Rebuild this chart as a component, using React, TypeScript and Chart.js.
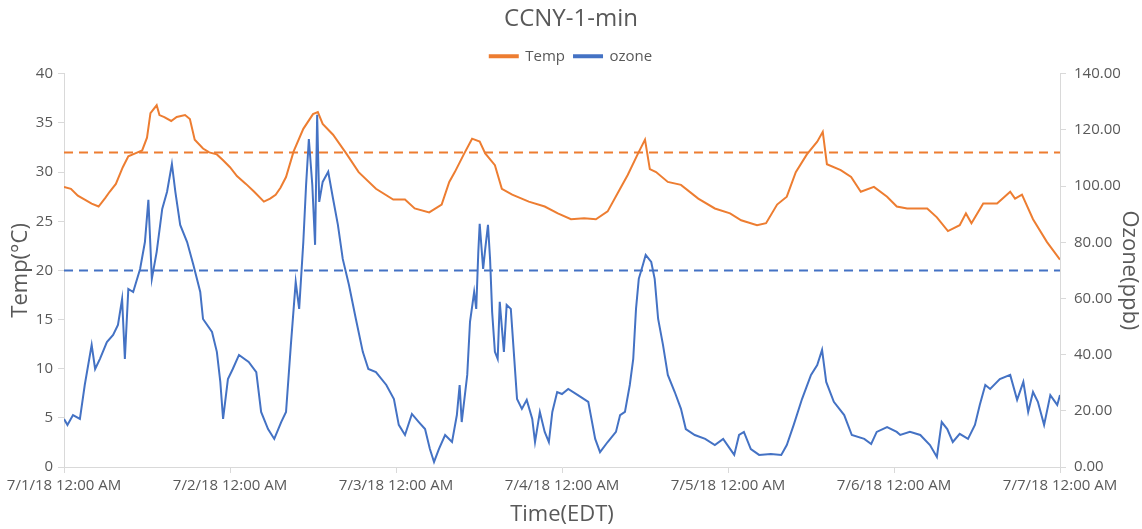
import React, { useEffect, useRef } from "react";
import { Chart, registerables } from "chart.js";

Chart.register(...registerables);

// ---- Data (hours since 7/1/18 12:00 AM) ----
const tempHours = [
  0, 1, 2, 3, 4, 5, 6, 6.6, 7.5, 8.5, 9.3, 10.3, 11.3, 12, 12.5, 13.4, 13.8, 14.5, 15.5, 16.3,
  17.5, 18.2, 18.9, 20.1, 21, 22.1, 23, 24, 25, 26.3, 27.5, 28.9, 29.8, 30.6, 31.3, 32.1, 33.2,
  34.6, 36, 36.7, 37.4, 38.9, 40.8, 42.6, 45.1, 47.6, 49.3, 50.7, 52.8, 54.6, 55.7, 56.5, 57.8,
  59, 60.1, 60.9, 62.3, 63.3, 64.8, 67.2, 69.5, 71.4, 73.3, 75.2, 76.9, 78.6, 80.4, 81.5, 83,
  84, 84.7, 85.6, 87.3, 89.2, 91.7, 94.1, 96.3, 97.9, 100.2, 101.5, 103.1, 104.5, 105.8, 107.4,
  108.9, 109.7, 110.3, 112.3, 113.8, 115.2, 117.1, 119, 120.4, 121.9, 124.8, 126.2, 127.8, 129.5,
  130.4, 131.2, 132.9, 134.9, 136.8, 137.5, 138.5, 140.1, 142.1, 144,
];
const tempValues = [
  28.5, 28.3, 27.6, 27.2, 26.8, 26.5, 27.4, 28.0, 28.8, 30.5, 31.6, 31.9, 32.2, 33.5, 36.0, 36.8,
  35.8, 35.6, 35.2, 35.6, 35.8, 35.4, 33.3, 32.4, 32.0, 31.8, 31.2, 30.5, 29.6, 28.8, 28.0, 27.0,
  27.3, 27.7, 28.4, 29.5, 32.1, 34.4, 35.9, 36.1, 34.9, 33.8, 31.9, 30.0, 28.3, 27.2, 27.2, 26.3,
  25.9, 26.7, 29.0, 30.0, 31.8, 33.4, 33.1, 31.9, 30.7, 28.3, 27.7, 27.0, 26.5, 25.8, 25.2, 25.3,
  25.2, 26.0, 28.3, 29.7, 31.9, 33.3, 30.3, 30.0, 29.0, 28.7, 27.3, 26.3, 25.8, 25.1, 24.6, 24.8,
  26.7, 27.5, 30.0, 31.8, 33.1, 34.1, 30.8, 30.2, 29.5, 28.0, 28.5, 27.5, 26.5, 26.3, 26.3, 25.4,
  24.0, 24.6, 25.8, 24.8, 26.8, 26.8, 28.0, 27.3, 27.7, 25.2, 22.9, 21.1,
];

const ozoneHours = [
  0, 0.5, 1.3, 2.3, 3, 4, 4.5, 5.2, 6.2, 7.1, 7.8, 8.4, 8.8, 9.3, 10, 11, 11.7, 12.2, 12.7, 13.4,
  14.2, 14.9, 15.6, 16.1, 16.8, 17.8, 18.7, 19.7, 20.1, 21.4, 22.1, 22.6, 23, 23.7, 24.4, 25.3,
  26.7, 27.8, 28.5, 29.5, 30.4, 31.4, 32.1, 32.8, 33.5, 34, 34.6, 35, 35.4, 35.9, 36.3, 36.6,
  36.9, 37.4, 38.2, 38.9, 39.6, 40.3, 41.2, 42.2, 43.2, 44, 45.1, 46.6, 47.7, 48.4, 49.3, 50.3,
  51.3, 52.2, 52.9, 53.5, 54.2, 55.1, 56.1, 56.8, 57.2, 57.5, 58.3, 58.7, 59.3, 59.6, 59.9, 60.1,
  60.6, 60.9, 61.3, 61.6, 61.9, 62.3, 62.7, 63, 63.6, 64, 64.6, 65.1, 65.5, 66.2, 66.9, 67.7, 68.1,
  68.8, 69.5, 70.1, 70.6, 71.3, 72, 72.9, 74.3, 75.8, 76.8, 77.5, 78.6, 79.8, 80.4, 81.1, 81.8,
  82.3, 82.7, 83.1, 83.7, 84.1, 84.9, 85.4, 85.9, 86.6, 87.3, 88.3, 89.2, 89.9, 91.2, 92.7, 94.1,
  95.3, 96.4, 96.9, 97.6, 98.3, 99.3, 100.5, 102.2, 103.7, 104.5, 105.5, 106.7, 108, 108.9, 109.6,
  110.2, 111.3, 112.8, 113.9, 115.7, 116.7, 117.5, 119, 120.4, 120.9, 122.3, 123.8, 125.2, 126.2,
  126.9, 127.7, 128.5, 129.5, 130.7, 131.7, 132.4, 133.2, 133.9, 135.3, 136.8, 137.8, 138.7,
  139.4, 140.1, 140.8, 141.7, 142.6, 143.6, 144,
];
const ozoneValues = [
  17.1, 15.0, 18.5, 17.1, 29.2, 43.5, 34.9, 38.5, 44.5, 47.0, 50.6, 59.8, 38.5, 63.4, 62.3, 70.5,
  80.1, 95.1, 67.0, 76.6, 91.9, 98.0, 107.9, 98.0, 86.2, 80.1, 72.0, 62.3, 52.7, 48.1, 41.0, 30.3,
  17.1, 31.3, 34.9, 39.9, 37.4, 33.8, 19.6, 13.5, 10.0, 16.0, 19.6, 43.5, 65.9, 56.3, 80.1, 100.4,
  116.8, 100.4, 79.1, 125.4, 94.4, 101.5, 105.1, 95.5, 86.2, 74.1, 64.8, 52.7, 41.0, 34.9, 33.8,
  29.2, 24.2, 15.0, 11.4, 18.9, 16.0, 13.5, 6.4, 1.8, 6.4, 11.4, 8.9, 18.5, 29.2, 16.0, 32.8, 51.7,
  62.3, 56.3, 76.6, 86.6, 70.5, 77.7, 86.2, 74.1, 55.2, 41.0, 38.5, 58.8, 41.0, 57.7, 56.3, 38.5,
  24.2, 20.7, 23.9, 17.1, 8.9, 19.6, 12.5, 8.9, 19.6, 26.7, 26.0, 27.8, 25.6, 23.2, 10.0, 5.3, 8.9,
  12.5, 18.5, 19.6, 29.2, 38.5, 56.3, 67.0, 72.0, 75.5, 73.0, 67.0, 52.7, 43.5, 32.8, 26.7, 20.7,
  13.5, 11.4, 10.0, 7.8, 10.0, 6.1, 4.3, 11.4, 12.5, 6.4, 4.3, 4.6, 4.3, 7.8, 15.0, 24.2, 32.8,
  36.3, 41.7, 30.3, 23.2, 18.5, 11.4, 10.0, 8.2, 12.5, 14.2, 12.5, 11.4, 12.5, 11.4, 7.8, 3.6, 16.0,
  13.5, 8.9, 11.8, 10.0, 15.0, 22.1, 29.2, 27.8, 31.3, 32.8, 23.9, 30.3, 19.6, 26.7, 23.2, 15.0,
  25.6, 22.1, 25.6,
];

const xTickLabels = [
  "7/1/18 12:00 AM",
  "7/2/18 12:00 AM",
  "7/3/18 12:00 AM",
  "7/4/18 12:00 AM",
  "7/5/18 12:00 AM",
  "7/6/18 12:00 AM",
  "7/7/18 12:00 AM",
];
const tempLimit = 32;
const ozoneLimit = 70;

const ORANGE = "#ED7D31";
const BLUE = "#4472C4";
const TEXT = "#595959";
const AXIS = "#D9D9D9";
const FONT = "'Open Sans', sans-serif";

export default function App() {
  const ref = useRef<HTMLCanvasElement | null>(null);

  useEffect(() => {
    if (!ref.current) return;
    const chart = new Chart(ref.current, {
      type: "line",
      data: {
        datasets: [
          {
            label: "Temp",
            data: tempHours.map((h, i) => ({ x: h, y: tempValues[i] })),
            yAxisID: "yTemp",
            borderColor: ORANGE,
            backgroundColor: ORANGE,
            borderWidth: 2,
            pointRadius: 0,
            order: 2,
          },
          {
            label: "ozone",
            data: ozoneHours.map((h, i) => ({ x: h, y: ozoneValues[i] })),
            yAxisID: "yOzone",
            borderColor: BLUE,
            backgroundColor: BLUE,
            borderWidth: 2,
            pointRadius: 0,
            order: 1,
          },
          {
            label: "tempLimit",
            data: [
              { x: 0, y: tempLimit },
              { x: 144, y: tempLimit },
            ],
            yAxisID: "yTemp",
            borderColor: ORANGE,
            borderWidth: 2,
            borderDash: [9, 6],
            pointRadius: 0,
            order: 3,
          },
          {
            label: "ozoneLimit",
            data: [
              { x: 0, y: ozoneLimit },
              { x: 144, y: ozoneLimit },
            ],
            yAxisID: "yOzone",
            borderColor: BLUE,
            borderWidth: 2,
            borderDash: [9, 6],
            pointRadius: 0,
            order: 3,
          },
        ],
      },
      options: {
        responsive: false,
        animation: false,
        layout: { padding: { top: 0, bottom: 0, left: 0, right: 0 } },
        plugins: {
          tooltip: { enabled: false },
          title: {
            display: true,
            text: "CCNY-1-min",
            color: TEXT,
            font: { family: FONT, size: 24, weight: "normal" },
            padding: { top: 5, bottom: 6 },
          },
          legend: {
            display: true,
            position: "top",
            labels: {
              color: TEXT,
              font: { family: FONT, size: 15 },
              boxWidth: 28,
              boxHeight: 2,
              padding: 9,
              filter: (item: any) => item.datasetIndex < 2,
              sort: (a: any, b: any) => a.datasetIndex - b.datasetIndex,
            },
          },
        },
        scales: {
          x: {
            type: "linear",
            position: "bottom",
            min: 0,
            max: 144,
            ticks: {
              stepSize: 24,
              autoSkip: false,
              maxRotation: 0,
              color: TEXT,
              font: { family: FONT, size: 15 },
              padding: 4,
              callback: (v: any) => xTickLabels[Math.round(Number(v) / 24)] ?? "",
            },
            grid: { drawOnChartArea: false, drawTicks: true, tickLength: 6, color: AXIS },
            border: { display: true, color: AXIS },
            title: {
              display: true,
              text: "Time(EDT)",
              color: TEXT,
              font: { family: FONT, size: 22 },
              padding: { top: 0, bottom: 1 },
            },
            afterFit: (s: any) => {
              s.height = 62;
            },
          },
          yTemp: {
            type: "linear",
            position: "left",
            min: 0,
            max: 40,
            ticks: {
              stepSize: 5,
              color: TEXT,
              font: { family: FONT, size: 15 },
              padding: 5,
            },
            grid: { drawOnChartArea: false, drawTicks: true, tickLength: 6, color: AXIS },
            border: { display: true, color: AXIS },
            title: {
              display: true,
              text: "Temp(°C)",
              color: TEXT,
              font: { family: FONT, size: 22 },
              padding: { top: 8, bottom: 0 },
            },
            afterFit: (s: any) => {
              s.width = 64;
            },
          },
          yOzone: {
            type: "linear",
            position: "right",
            min: 0,
            max: 140,
            ticks: {
              stepSize: 20,
              color: TEXT,
              font: { family: FONT, size: 15 },
              padding: 8,
              callback: (v: any) => Number(v).toFixed(2),
            },
            grid: { drawOnChartArea: false, drawTicks: true, tickLength: 6, color: AXIS },
            border: { display: true, color: AXIS },
            title: {
              display: true,
              text: "Ozone(ppb)",
              color: TEXT,
              font: { family: FONT, size: 22 },
              padding: { top: 0, bottom: 0 },
            },
            afterFit: (s: any) => {
              s.width = 82;
            },
          },
        },
      },
    } as any);
    return () => chart.destroy();
  }, []);

  return (
    <div style={{ position: "absolute", left: 0, top: 0, width: 1142, height: 529, background: "#fff" }}>
      <canvas ref={ref} width={1142} height={529} />
    </div>
  );
}
